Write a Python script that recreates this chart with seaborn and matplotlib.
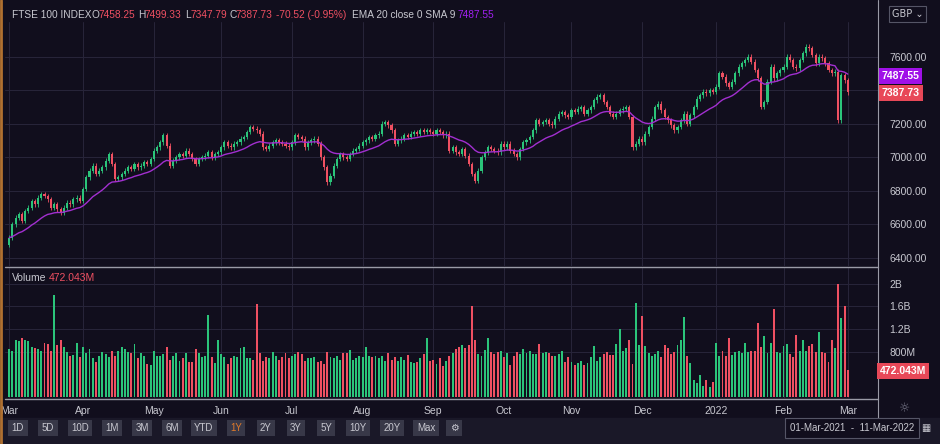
import numpy as np
import pandas as pd
import matplotlib
matplotlib.use("Agg")
import matplotlib.pyplot as plt
import seaborn as sns

# daily closes, Mar-2021 .. 01-Mar-2022
close_mar21 = [6520, 6600, 6640, 6660, 6620, 6680, 6700, 6740, 6720, 6760, 6780, 6770, 6750, 6700, 6720, 6690, 6670, 6700, 6730, 6720, 6750, 6760, 6740]
close_apr21 = [6810, 6880, 6920, 6950, 6900, 6920, 6940, 6980, 7020, 6960, 6870, 6880, 6900, 6920, 6940, 6930, 6960, 6940, 6950, 6970, 6960, 6990]
close_may21 = [7040, 7060, 7090, 7130, 7070, 6950, 6980, 7000, 7020, 7010, 7040, 7020, 6990, 6960, 6990, 7000, 7010, 7030, 7000, 7020, 7030]
close_jun21 = [7060, 7090, 7070, 7060, 7080, 7090, 7110, 7120, 7150, 7180, 7170, 7160, 7140, 7060, 7050, 7070, 7090, 7100, 7090, 7080, 7070, 7060]
close_jul21 = [7090, 7130, 7120, 7110, 7060, 7090, 7100, 7110, 7080, 7000, 6940, 6850, 6890, 6950, 6990, 7020, 7000, 6990, 7020, 7040, 7050, 7070]
close_aug21 = [7090, 7100, 7120, 7110, 7130, 7140, 7200, 7210, 7190, 7160, 7080, 7100, 7110, 7130, 7120, 7140, 7150, 7140, 7160, 7150, 7160, 7150]
close_sep21 = [7140, 7160, 7150, 7130, 7140, 7040, 7060, 7030, 7020, 7050, 7010, 6960, 6900, 6860, 6920, 7000, 7030, 7060, 7050, 7040, 7030, 7080]
close_oct21 = [7060, 7080, 7040, 7020, 7000, 7050, 7090, 7100, 7120, 7160, 7220, 7200, 7210, 7220, 7200, 7190, 7230, 7260, 7270, 7250, 7240]
close_nov21 = [7280, 7270, 7290, 7300, 7260, 7280, 7300, 7340, 7360, 7370, 7330, 7300, 7260, 7240, 7260, 7280, 7290, 7300, 7240, 7060, 7080, 7110]
close_dec21 = [7090, 7140, 7180, 7230, 7300, 7320, 7280, 7240, 7220, 7190, 7160, 7180, 7220, 7260, 7200, 7250, 7300, 7350, 7370, 7390, 7380, 7400, 7390]
close_jan22 = [7420, 7500, 7480, 7440, 7420, 7450, 7500, 7540, 7560, 7580, 7600, 7570, 7520, 7470, 7300, 7330, 7450, 7540, 7470, 7500, 7520]
close_feb22 = [7540, 7600, 7580, 7540, 7530, 7580, 7620, 7660, 7650, 7610, 7560, 7600, 7590, 7560, 7520, 7500, 7510, 7220, 7490, 7458.25]
close_mar22 = [7387.73]
first_open = 6480

# volume, millions
vol_mar21 = [850, 820, 1000, 980, 1040, 1000, 990, 880, 860, 850, 820, 950, 940, 820, 1800, 920, 1000, 880, 800, 720, 740, 960, 700]
vol_apr21 = [880, 780, 840, 690, 620, 720, 800, 760, 710, 810, 720, 810, 880, 850, 790, 780, 930, 690, 780, 730, 590, 560]
vol_may21 = [820, 720, 720, 760, 880, 650, 720, 780, 640, 680, 780, 620, 620, 850, 780, 700, 720, 1450, 700, 600, 1000]
vol_jun21 = [760, 700, 580, 680, 720, 700, 860, 880, 680, 690, 660, 1640, 780, 640, 700, 680, 800, 720, 660, 700, 770, 690]
vol_jul21 = [720, 760, 800, 760, 640, 690, 690, 700, 610, 640, 580, 800, 700, 680, 720, 660, 770, 780, 830, 660, 690, 720]
vol_aug21 = [700, 880, 730, 700, 720, 690, 720, 640, 770, 650, 700, 640, 700, 650, 740, 620, 600, 620, 690, 760, 1050, 640]
vol_sep21 = [650, 580, 680, 540, 630, 720, 770, 840, 880, 920, 860, 920, 1600, 1000, 760, 720, 830, 1050, 800, 760, 800, 820]
vol_oct21 = [700, 780, 560, 720, 800, 760, 840, 780, 820, 760, 760, 940, 780, 800, 780, 720, 720, 760, 820, 620, 700]
vol_nov21 = [610, 560, 600, 640, 560, 600, 700, 900, 640, 700, 760, 800, 740, 740, 940, 1200, 820, 870, 1000, 580, 1660, 920]
vol_dec21 = [1430, 900, 780, 720, 760, 820, 700, 920, 860, 760, 800, 920, 1000, 1420, 720, 600, 300, 240, 380, 200, 300, 180, 260]
vol_jan22 = [950, 720, 820, 720, 1040, 740, 800, 820, 780, 960, 800, 810, 820, 1300, 880, 1080, 780, 960, 1550, 800, 780]
vol_feb22 = [900, 940, 750, 700, 1100, 820, 1000, 820, 900, 940, 800, 1150, 800, 780, 620, 1000, 860, 2000, 1400, 1600]
vol_mar22 = [472.043]

month_labels = ["Mar", "Apr", "May", "Jun", "Jul", "Aug", "Sep", "Oct", "Nov", "Dec", "2022", "Feb", "Mar"]
price_ticks = [6400, 6600, 6800, 7000, 7200, 7400, 7600]
vol_ticks = [0.8, 1.2, 1.6, 2.0]
vol_tick_labels = ["800M", "1.2B", "1.6B", "2B"]
range_buttons = ["1D", "5D", "10D", "1M", "3M", "6M", "YTD", "1Y", "2Y", "3Y", "5Y", "10Y", "20Y", "Max"]

closes = np.array(close_mar21 + close_apr21 + close_may21 + close_jun21 + close_jul21 + close_aug21
                  + close_sep21 + close_oct21 + close_nov21 + close_dec21 + close_jan22 + close_feb22 + close_mar22, float)
vols = np.array(vol_mar21 + vol_apr21 + vol_may21 + vol_jun21 + vol_jul21 + vol_aug21 + vol_sep21
                + vol_oct21 + vol_nov21 + vol_dec21 + vol_jan22 + vol_feb22 + vol_mar22, float) / 1000.0
dates = pd.bdate_range("2021-03-01", "2022-03-01")
n = len(closes)
df = pd.DataFrame({"date": dates[:n], "close": closes, "vol": vols})
df["open"] = df["close"].shift(1).fillna(first_open)
df["high"] = df[["open", "close"]].max(axis=1) + 14
df["low"] = df[["open", "close"]].min(axis=1) - 14
df["x"] = np.arange(n)
df["ema"] = df["close"].ewm(span=20, adjust=False).mean()

BG = "#110e1d"
GRID = "#28253a"
GREEN = "#2bc47a"
RED = "#ef5062"
TXT = "#c8c8d0"
up = df["close"] >= df["open"]
colors = np.where(up, GREEN, RED)

sns.set_theme(style="dark", rc={"axes.facecolor": BG, "figure.facecolor": BG,
                                "font.family": "Liberation Sans"})
fig = plt.figure(figsize=(9.4, 4.44), dpi=100)
W, H = 940, 444

def fx(px):
    return px / W

def fy(py):
    return 1 - py / H

ax = fig.add_axes([fx(5), fy(266), fx(873), (266 - 22) / H])
axv = fig.add_axes([fx(5), fy(398), fx(873), (398 - 268) / H])

x0, x1 = -1.3, 270.4
month_starts = df.groupby([df["date"].dt.year, df["date"].dt.month])["x"].min().values

for a in (ax, axv):
    a.set_facecolor(BG)
    a.set_xlim(x0, x1)
    for s in a.spines.values():
        s.set_visible(False)
    a.set_xticks(month_starts)
    a.grid(True, color=GRID, lw=0.7)
    a.yaxis.tick_right()
    a.tick_params(axis="y", colors=TXT, labelsize=7.5, length=0, pad=8)

# candles
ax.vlines(df["x"], df["low"], df["high"], colors=colors, lw=0.6)
body_lo = df[["open", "close"]].min(axis=1)
body_h = (df["close"] - df["open"]).abs().clip(lower=3)
ax.bar(df["x"], body_h, bottom=body_lo, width=0.65, color=colors, lw=0)
sns.lineplot(data=df, x="x", y="ema", ax=ax, color="#a22fd0", lw=1.0)
ax.set_ylim(6352, 7806)
ax.set_yticks(price_ticks)
# 7400 label sits under the last-price tags
ax.set_yticklabels(["" if v == 7400 else f"{v:.2f}" for v in price_ticks])
ax.set_xticklabels([])
ax.tick_params(axis="x", length=0)
ax.set_xlabel("")
ax.set_ylabel("")

axv.bar(df["x"], df["vol"], width=0.6, color=colors, lw=0)
axv.set_ylim(-0.02, 2.28)
axv.set_yticks(vol_ticks)
axv.set_yticklabels(vol_tick_labels)
axv.set_xticklabels(month_labels)
axv.tick_params(axis="x", colors=TXT, labelsize=7.5, length=0, pad=6)

# separators
fig.add_artist(plt.Line2D([fx(5), fx(878)], [fy(267), fy(267)], color="#9a9aa6", lw=1))
fig.add_artist(plt.Line2D([fx(5), fx(878)], [fy(399), fy(399)], color="#9a9aa6", lw=1))
fig.add_artist(plt.Line2D([fx(878), fx(878)], [fy(0), fy(420)], color="#9a9aa6", lw=0.8))
fig.add_artist(plt.Line2D([fx(1), fx(1)], [fy(0), fy(444)], color="#b07030", lw=2))

# header
hdr = [(12, "FTSE 100 INDEX", TXT), (92, "O", TXT), (99, "7458.25", RED), (138, "H", TXT), (145, "7499.33", RED),
       (185, "L", TXT), (191, "7347.79", RED), (229, "C", TXT), (236, "7387.73", RED),
       (276, "-70.52 (-0.95%)", RED), (352, "EMA 20 close 0 SMA 9", TXT), (458, "7487.55", "#a020f0")]
for px, s, c in hdr:
    fig.text(fx(px), fy(15), s, color=c, fontsize=7.3, va="center")
fig.text(fx(892), fy(14), "GBP ⌄", color=TXT, fontsize=7, va="center", fontfamily="DejaVu Sans",
         bbox=dict(boxstyle="square,pad=0.3", fc=BG, ec="#555566", lw=0.8))

fig.text(fx(12), fy(278), "Volume", color=TXT, fontsize=7.5, va="center")
fig.text(fx(49), fy(278), "472.043M", color=RED, fontsize=7.5, va="center")

# last-value tags
tag = dict(color="white", fontsize=7.5, va="center", fontweight="bold")
fig.text(fx(882), fy(76), "7487.55", bbox=dict(boxstyle="square,pad=0.25", fc="#a010e8", ec="none"), **tag)
fig.text(fx(882), fy(93), "7387.73", bbox=dict(boxstyle="square,pad=0.25", fc="#e84858", ec="none"), **tag)
fig.text(fx(880), fy(371), "472.043M", bbox=dict(boxstyle="square,pad=0.25", fc="#e84858", ec="none"), **tag)
fig.text(fx(905), fy(409), "☼", color="#777788", fontsize=9, ha="center", va="center", fontfamily="DejaVu Sans")

# bottom bar
fig.patches.append(plt.Rectangle((0, 0), 1, fy(418), transform=fig.transFigure, color="#1a1828", zorder=-1))
bx = 6
for b in range_buttons:
    w = 24 if len(b) < 3 else 28
    fig.text(fx(bx + w / 2), fy(428), b, color="#e07a2a" if b == "1Y" else TXT, fontsize=7,
             ha="center", va="center",
             bbox=dict(boxstyle="square,pad=0.35", fc="#383848", ec="none"))
    bx += w + 6
fig.text(fx(bx + 8), fy(428), "⚙", color=TXT, fontsize=7, ha="center", va="center", fontfamily="DejaVu Sans",
         bbox=dict(boxstyle="square,pad=0.35", fc="#383848", ec="none"))
fig.text(fx(790), fy(428), "01-Mar-2021  -  11-Mar-2022", color=TXT, fontsize=7, va="center",
         bbox=dict(boxstyle="square,pad=0.5", fc=BG, ec="#555566", lw=0.8))
fig.text(fx(921), fy(428), "▦", color=TXT, fontsize=7, va="center", fontfamily="DejaVu Sans")

fig.savefig("out.png", dpi=100, facecolor=BG)
